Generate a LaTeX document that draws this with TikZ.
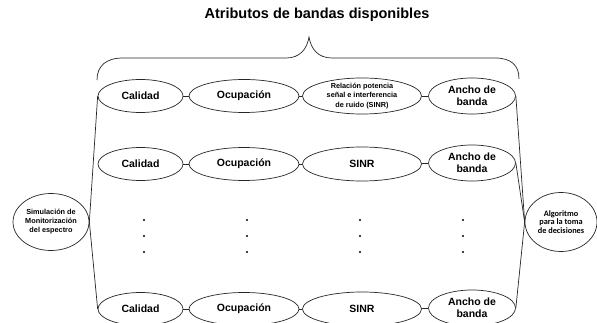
\documentclass[tikz,border=0pt]{standalone}
\usepackage{fontspec}
\setmainfont{Liberation Sans}
\newfontfamily\calfont{Carlito}
\usetikzlibrary{shapes.geometric}
\begin{document}
\begin{tikzpicture}[x=1pt,y=-1pt,
  lin/.style={draw=black!85,line width=0.7pt},
  ell/.style={ellipse,lin,inner sep=0pt,align=center,font=\bfseries\fontsize{10.5}{12}\selectfont},
  cal/.style={ell,minimum width=85pt,minimum height=33pt},
  ocu/.style={ell,minimum width=110pt,minimum height=33pt},
  sinr/.style={ell,minimum width=119pt,minimum height=34pt},
  anc/.style={ell,minimum width=87pt,minimum height=36pt},
  dotn/.style={circle,fill=black,inner sep=0pt,minimum size=2.2pt},
  conn/.style={lin}]
\useasboundingbox (0,0) rectangle (597,323);
\node[font=\bfseries\fontsize{14.5}{16}\selectfont] (title) at (317,15) {Atributos de bandas disponibles};
% brace
\draw[lin] (97,80) .. controls (97,66) and (106,58) .. (123,58) -- (286,58)
  .. controls (300,58) and (307,49) .. (309,37)
  .. controls (311,49) and (318,58) .. (332,58) -- (495,58)
  .. controls (512,58) and (519,66) .. (519,79);
% rows
\node[cal] (c1) at (140.5,96) {Calidad};
\node[ocu] (o1) at (244,96) {Ocupación};
\node[sinr,font=\bfseries\fontsize{7.3}{9.3}\selectfont] (s1) at (362,96) {Relación potencia\\señal e interferencia\\de ruido (SINR)};
\node[anc] (a1) at (472,96) {Ancho de\\banda};
\node[cal] (c2) at (140.5,164) {Calidad};
\node[ocu] (o2) at (244,164) {Ocupación};
\node[sinr] (s2) at (362,164) {SINR};
\node[anc] (a2) at (472,163) {Ancho de\\banda};
\node[cal] (c3) at (140.5,309) {Calidad};
\node[ocu] (o3) at (244,309) {Ocupación};
\node[sinr] (s3) at (362,309) {SINR};
\node[anc] (a3) at (472,308) {Ancho de\\banda};
\foreach \r in {1,2,3}{
  \draw[conn] (c\r) -- (o\r);
  \draw[conn] (o\r) -- (s\r);
  \draw[conn] (s\r) -- (a\r);
}
% side nodes
\node[ellipse,lin,inner sep=0pt,minimum width=76pt,minimum height=57pt,align=center,
  font=\bfseries\fontsize{7.3}{9}\selectfont] (sim) at (51,222) {Simulación de\\Monitorización\\del espectro};
\node[ellipse,lin,inner sep=0pt,minimum width=72pt,minimum height=59pt,align=center,
  font=\calfont\bfseries\fontsize{8.3}{8.6}\selectfont] (alg) at (561,222) {Algoritmo\\para la toma\\de decisiones};
\draw[conn] (sim.east) -- (c1.west);
\draw[conn] (sim.east) -- (c3.west);
\draw[conn] (a1.east) -- (alg.west);
\draw[conn] (a2.east) -- (alg.west);
\draw[conn] (a3.east) -- (alg.west);
% dots
\foreach \x/\n in {144/a,247/b,360/c,463/d}{
  \node[dotn] (\n1) at (\x,220) {};
  \node[dotn] (\n2) at (\x,236) {};
  \node[dotn] (\n3) at (\x,252) {};
}
\end{tikzpicture}
\end{document}
